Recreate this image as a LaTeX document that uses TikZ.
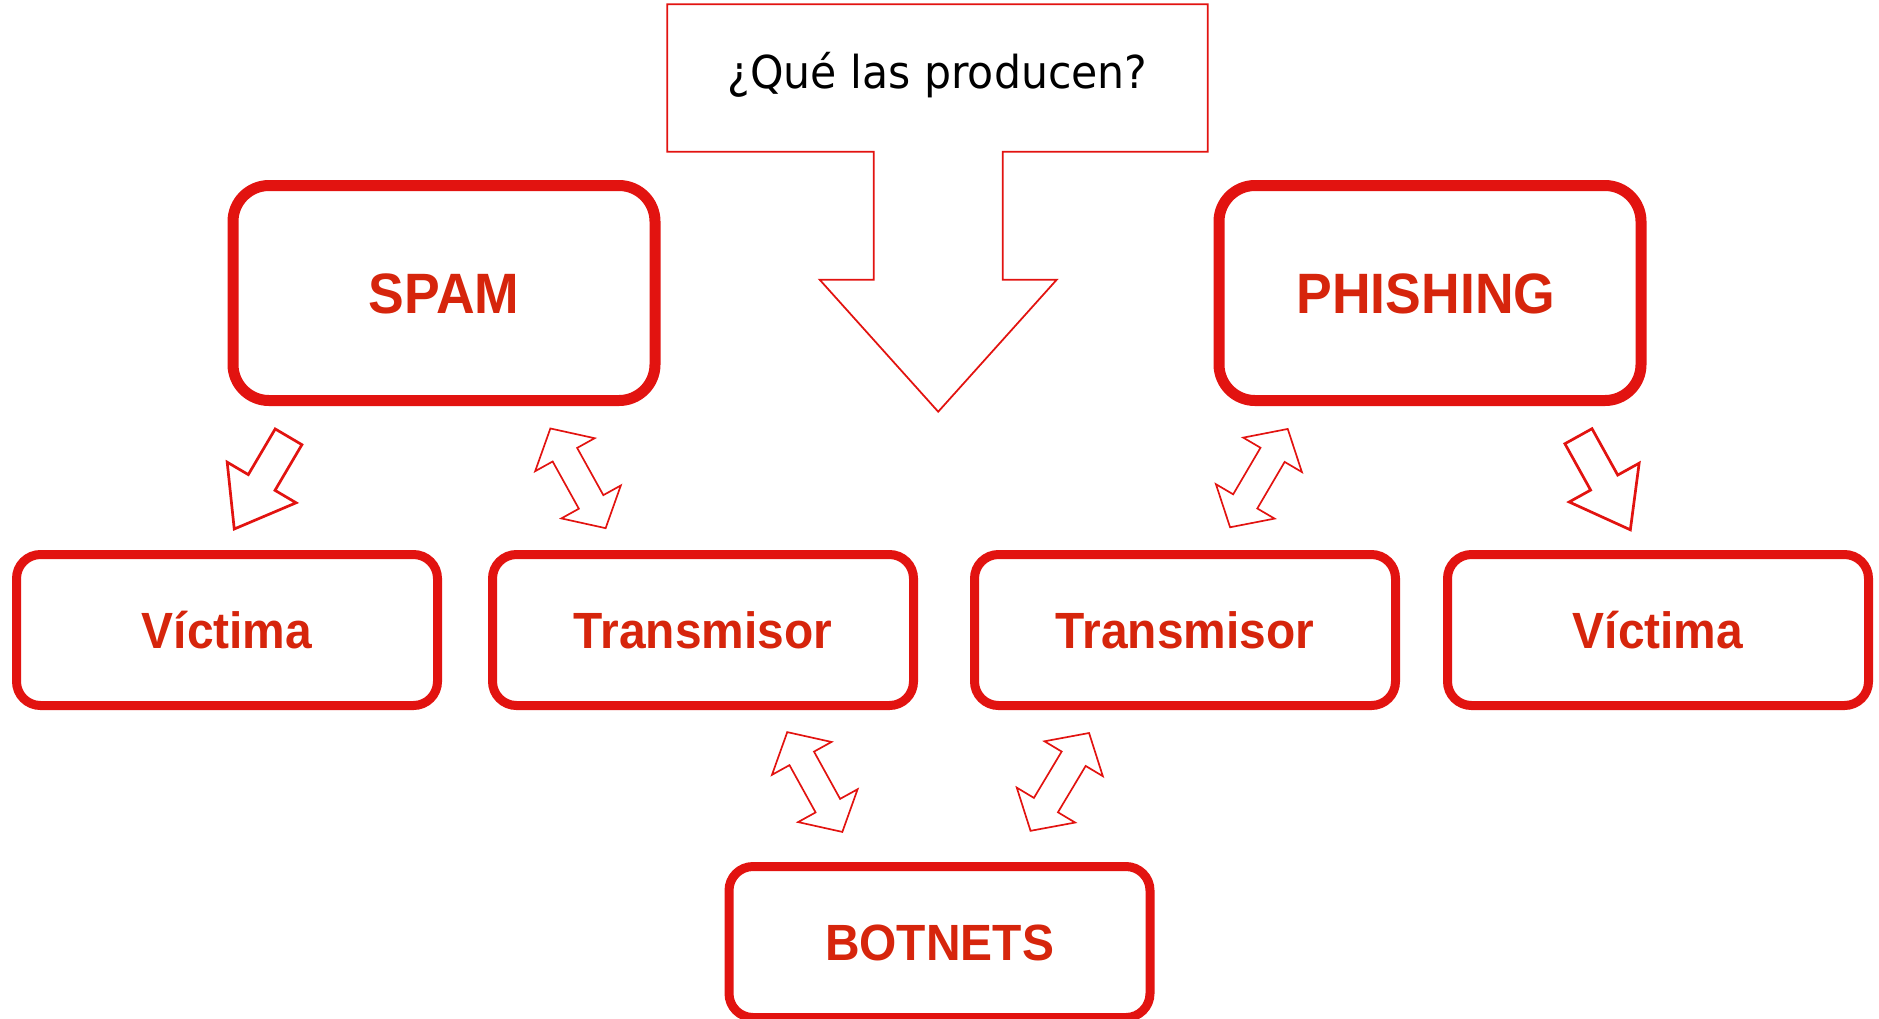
\documentclass[tikz,border=0pt]{standalone}
\usepackage{fontspec}
\newfontfamily\boxfont[FakeStretch=0.94]{Liberation Sans}
\newfontfamily\askfont[FakeStretch=0.94]{DejaVu Sans}
\definecolor{boxred}{RGB}{226,19,16}
\definecolor{txtred}{RGB}{214,37,12}
\tikzset{
  bigbox/.style={draw=boxred, line width=0.11cm, rounded corners=0.36cm,
    minimum width=4.22cm, minimum height=2.15cm, text=txtred,
    font=\boxfont\bfseries\fontsize{16.2}{19}\selectfont,
    text height=0.408cm, text depth=0cm},
  smallbox/.style={draw=boxred, line width=0.09cm, rounded corners=0.24cm,
    minimum width=4.21cm, minimum height=1.51cm, text=txtred,
    font=\boxfont\bfseries\fontsize{14.5}{17}\selectfont,
    text height=0.365cm, text depth=0cm},
  askbox/.style={minimum width=5.39cm, minimum height=1.46cm,
    font=\askfont\fontsize{12.9}{15}\selectfont,
    text height=0.33cm, text depth=0.13cm},
  askline/.style={draw=boxred, line width=0.5pt, line join=miter},
  onearrow/.pic={\draw[boxred, line width=0.77pt, line join=miter]
    (0.535,0) -- (-0.005,0.40) -- (-0.005,0.155) -- (-0.535,0.155)
    -- (-0.535,-0.155) -- (-0.005,-0.155) -- (-0.005,-0.40) -- cycle;},
  twoarrow/.pic={\draw[boxred, line width=0.48pt, line join=miter]
    (0.57,0) -- (0.27,0.34) -- (0.27,0.14) -- (-0.27,0.14) -- (-0.27,0.34)
    -- (-0.57,0) -- (-0.27,-0.34) -- (-0.27,-0.14) -- (0.27,-0.14)
    -- (0.27,-0.34) -- cycle;}
}
\begin{document}
\begin{tikzpicture}
\useasboundingbox (0,0) rectangle (18.79,-10.18);
% question with its big arrow
\node[askbox] (ask) at (9.375,-0.78) {¿Qué las producen?};
\draw[askline] (ask.south west) -- (ask.north west) -- (ask.north east)
  -- (ask.south east) -- ++(-2.05,0) -- ++(0,-1.28) -- ++(0.54,0)
  -- ++(-1.185,-1.32) -- ++(-1.185,1.32) -- ++(0.54,0) -- ++(0,1.28) -- cycle;
% boxes
\node[bigbox] (spam) at (4.44,-2.93) {SPAM};
\node[bigbox] (phish) at (14.30,-2.93) {\hspace*{-0.08cm}PHISHING};
\foreach \nm/\x/\t in {vic1/2.27/Víctima, tra1/7.03/Transmisor,
  tra2/11.85/Transmisor, vic2/16.58/Víctima}
  \node[smallbox] (\nm) at (\x,-6.30) {\t};
\node[smallbox] (bot) at (9.395,-9.42) {BOTNETS};
% block arrows
\pic[rotate=239.5] at (2.614,-4.829) {onearrow};
\pic[rotate=-61] at (16.044,-4.83) {onearrow};
\foreach \x/\y/\a in {5.78/-4.783/-61, 8.148/-7.82/-61.1,
  12.589/-4.781/59.6, 10.598/-7.819/59.1}
  \pic[rotate=\a] at (\x,\y) {twoarrow};
\end{tikzpicture}
\end{document}
